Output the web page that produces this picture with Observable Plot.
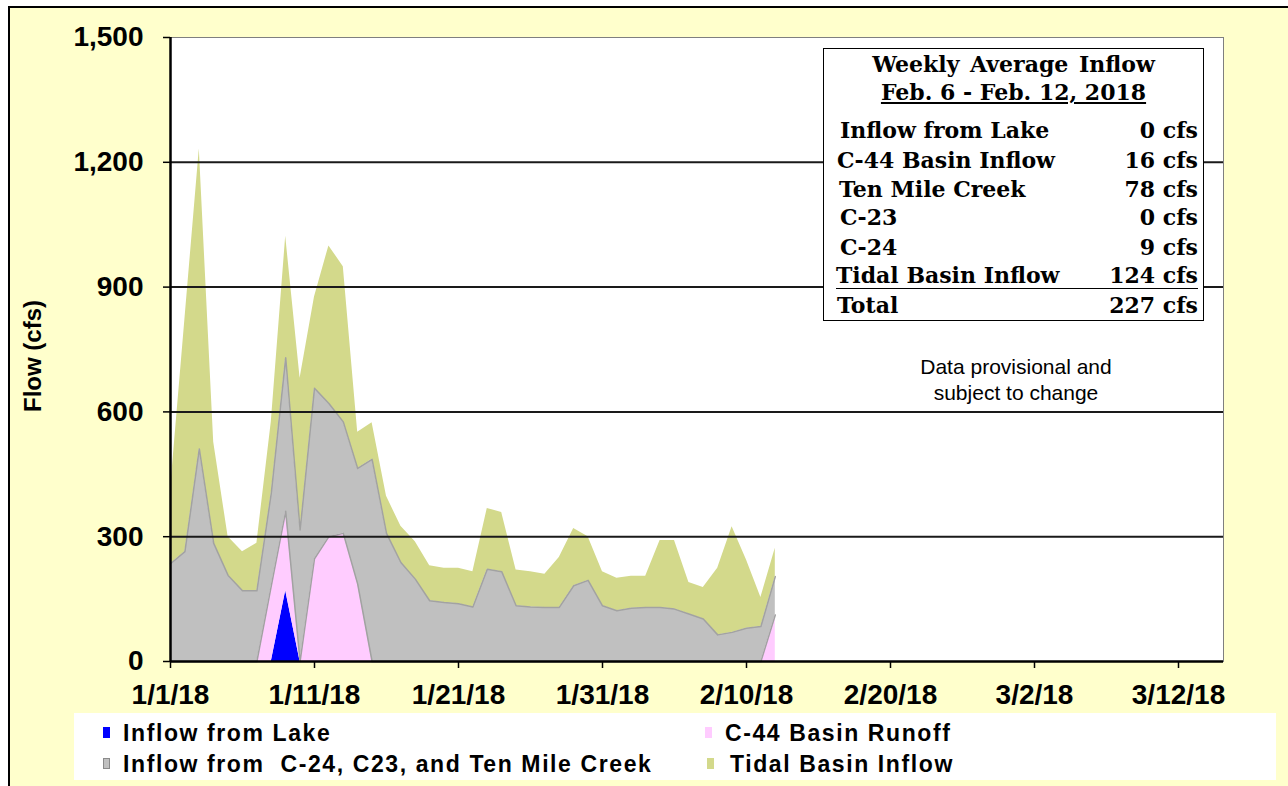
<!DOCTYPE html>
<html>
<head>
<meta charset="utf-8">
<script src="https://cdn.jsdelivr.net/npm/d3@7"></script>
<script src="https://cdn.jsdelivr.net/npm/@observablehq/plot@0.6"></script>
<style>
  html, body { margin:0; padding:0; width:1288px; height:786px; overflow:hidden; background:#ffffff; }
  body { font-family:"Liberation Sans", Arial, sans-serif; }
  #outer { position:absolute; left:8px; top:6px; width:1300px; height:800px; border:2px solid #000; background:#FFFFCC; box-sizing:border-box; }
  #chart { position:absolute; left:0; top:0; }
  #chart svg text { font-weight:bold; }
  #chart svg g[aria-label="y-axis tick label"], #chart svg g[aria-label="x-axis tick label"] { font-size:28px; }
  .abs { position:absolute; white-space:pre; }
  #ytitle { left:33px; top:356px; transform:translate(-50%,-50%) rotate(-90deg); font-weight:bold; font-size:24px; color:#000; }
  #legendbox { left:74px; top:713px; width:1202px; height:67px; background:#fff; }
  .lg { font-weight:bold; font-size:23px; line-height:23px; letter-spacing:1.6px; color:#000; }
  .sw { width:7px; height:11px; box-sizing:border-box; }
  #tablebox { left:823px; top:48px; width:381px; height:273px; border:1.5px solid #000; background:#fff; box-sizing:border-box; }
  .tb { font-family:"DejaVu Serif", serif; font-weight:bold; font-size:22px; line-height:22px; color:#000; }
  .row { display:flex; justify-content:space-between; width:362px; left:836px; }
  #note { left:866px; width:300px; text-align:center; top:354px; font-size:21px; line-height:26px; color:#000; white-space:normal; }
</style>
</head>
<body>
<div id="outer"></div>
<div id="chart"></div>
<div id="ytitle" class="abs">Flow (cfs)</div>
<div id="legendbox" class="abs"></div>
<div id="legend"></div>
<div id="tablebox" class="abs"></div>
<div id="table"></div>
<div id="note" class="abs">Data provisional and<br>subject to change</div>
<script>
// ---------------- DATA ----------------
const days = [
  "2018-01-01","2018-01-02","2018-01-03","2018-01-04","2018-01-05","2018-01-06","2018-01-07","2018-01-08",
  "2018-01-09","2018-01-10","2018-01-11","2018-01-12","2018-01-13","2018-01-14","2018-01-15","2018-01-16",
  "2018-01-17","2018-01-18","2018-01-19","2018-01-20","2018-01-21","2018-01-22","2018-01-23","2018-01-24",
  "2018-01-25","2018-01-26","2018-01-27","2018-01-28","2018-01-29","2018-01-30","2018-01-31","2018-02-01",
  "2018-02-02","2018-02-03","2018-02-04","2018-02-05","2018-02-06","2018-02-07","2018-02-08","2018-02-09",
  "2018-02-10","2018-02-11","2018-02-12"
];
const inflowLake = [0,0,0,0,0,0,0,0,170,0,0,0,0,0,0,0,0,0,0,0,0,0,0,0,0,0,0,0,0,0,0,0,0,0,0,0,0,0,0,0,0,0,0];
const c44Runoff  = [0,0,0,0,0,0,0,182,191,0,247,300,308,186,0,0,0,0,0,0,0,0,0,0,0,0,0,0,0,0,0,0,0,0,0,0,0,0,0,0,0,0,112];
const creeks     = [235,264,511,284,207,170,170,223,369,316,410,320,268,278,486,308,238,198,146,142,139,131,222,216,134,131,130,130,182,195,134,122,128,130,130,126,114,102,64,70,80,84,92];
const tidal      = [178,558,721,243,93,94,114,171,292,365,219,379,373,87,88,89,87,90,84,82,85,85,146,142,86,85,80,120,138,105,82,78,77,75,161,165,76,76,160,254,164,70,68];

const seriesNames  = ["Inflow from Lake", "C-44 Basin Runoff", "Inflow from  C-24, C23, and Ten Mile Creek", "Tidal Basin Inflow"];
const seriesColors = ["#0000FF", "#FFCCFF", "#C0C0C0", "#D3D98B"];
const yTicks = [0, 300, 600, 900, 1200, 1500];
const gridValues = [300, 600, 900, 1200];
const xTickDates  = ["2018-01-01","2018-01-11","2018-01-21","2018-01-31","2018-02-10","2018-02-20","2018-03-02","2018-03-12"];
const xTickLabels = ["1/1/18","1/11/18","1/21/18","1/31/18","2/10/18","2/20/18","3/2/18","3/12/18"];
const xDomain = ["2018-01-01T00:00Z", "2018-03-15T03:00Z"];

const tableTitle = "Weekly Average Inflow";
const tablePeriod = "Feb. 6 - Feb. 12, 2018";
const tableLabels = ["Inflow from Lake", "C-44 Basin Inflow", "Ten Mile Creek", "C-23", "C-24", "Tidal Basin Inflow", "Total"];
const tableValues = ["0 cfs", "16 cfs", "78 cfs", "0 cfs", "9 cfs", "124 cfs", "227 cfs"];

// ---------------- BUILD TABLE FOR PLOT ----------------
const seriesValues = [inflowLake, c44Runoff, creeks, tidal];
const stacked = [];
days.forEach((day, i) => {
  let base = 0;
  seriesNames.forEach((name, s) => {
    const v = seriesValues[s][i];
    stacked.push({date: new Date(day + "T00:00Z"), series: name, y1: base, y2: base + v});
    base += v;
  });
});
const edges = stacked.filter(d => d.series === seriesNames[1] || d.series === seriesNames[2]);
const tickDates = xTickDates.map(d => new Date(d + "T00:00Z"));
const fmtX = d => xTickLabels[tickDates.findIndex(t => +t === +d)];

const chart = Plot.plot({
  width: 1288,
  height: 700,
  marginLeft: 170,
  marginRight: 65,
  marginTop: 37,
  marginBottom: 39,
  style: {background: "transparent", fontFamily: "'Liberation Sans', Arial, sans-serif", overflow: "visible", color: "#000"},
  x: {type: "utc", domain: xDomain.map(d => new Date(d))},
  y: {domain: [0, 1500]},
  color: {domain: seriesNames, range: seriesColors},
  marks: [
    Plot.frame({fill: "white", stroke: null}),
    Plot.areaY(stacked, {x: "date", y1: "y1", y2: "y2", z: "series", fill: "series"}),
    Plot.lineY(edges, {x: "date", y: "y2", z: "series", stroke: "#A2A2A2", strokeWidth: 1.5}),
    Plot.ruleY(gridValues, {stroke: "#1a1a1a", strokeWidth: 2}),
    Plot.frame({stroke: "#7f7f7f", strokeWidth: 1}),
    Plot.axisY({ticks: yTicks, tickFormat: d3.format(","), tickSize: 7, tickPadding: 20, fontSize: 28, fontWeight: "bold", label: null, strokeWidth: 1.5}),
    Plot.axisX({ticks: tickDates, tickFormat: fmtX, tickSize: 7, tickPadding: 16, fontSize: 28, fontWeight: "bold", label: null, strokeWidth: 1.5}),
    Plot.ruleX([tickDates[0]], {stroke: "black", strokeWidth: 2.5}),
    Plot.ruleY([0], {stroke: "black", strokeWidth: 2.5})
  ]
});
document.getElementById("chart").appendChild(chart);

// ---------------- LEGEND (HTML) ----------------
const legendPos = [
  {sx: 103, tx: 123, top: 722},
  {sx: 705, tx: 725, top: 722},
  {sx: 103, tx: 123, top: 753},
  {sx: 707, tx: 730, top: 753}
];
const legend = document.getElementById("legend");
seriesNames.forEach((name, i) => {
  const p = legendPos[i];
  const sw = document.createElement("div");
  sw.className = "abs sw";
  sw.style.left = p.sx + "px";
  sw.style.top = (p.top + 5) + "px";
  sw.style.background = seriesColors[i];
  if (i === 2) sw.style.border = "1px solid #8a8a8a";
  legend.appendChild(sw);
  const t = document.createElement("div");
  t.className = "abs lg";
  t.style.left = p.tx + "px";
  t.style.top = p.top + "px";
  t.textContent = name;
  legend.appendChild(t);
});

// ---------------- SUMMARY TABLE (HTML) ----------------
const table = document.getElementById("table");
function addLine(text, baseline, extra) {
  const d = document.createElement("div");
  d.className = "abs tb";
  d.style.top = (baseline - 18.6) + "px";
  d.style.left = "823px";
  d.style.width = "381px";
  d.style.textAlign = "center";
  d.textContent = text;
  Object.assign(d.style, extra || {});
  table.appendChild(d);
}
addLine(tableTitle, 72, {wordSpacing: "3px"});
addLine(tablePeriod, 100, {textDecoration: "underline"});
const rowBaselines = [138, 168, 197, 225, 255, 283, 313];
const rowLeft = [840, 837, 839, 840, 840, 836, 837];
tableLabels.forEach((lab, i) => {
  const r = document.createElement("div");
  r.className = "abs tb row";
  r.style.top = (rowBaselines[i] - 18.6) + "px";
  r.style.left = rowLeft[i] + "px";
  r.style.width = (1198 - rowLeft[i]) + "px";
  const a = document.createElement("span"); a.textContent = lab;
  const b = document.createElement("span"); b.textContent = tableValues[i];
  r.appendChild(a); r.appendChild(b);
  if (i === 5) { r.style.borderBottom = "1.5px solid #000"; r.style.height = "24px"; }
  table.appendChild(r);
});
</script>
</body>
</html>
